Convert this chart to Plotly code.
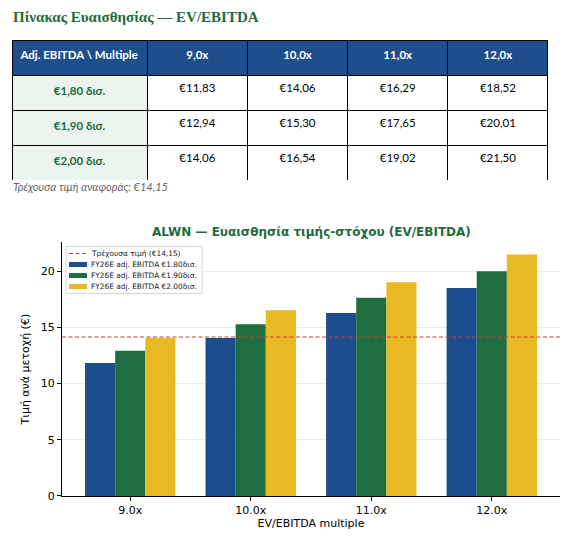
import plotly.graph_objects as go

# Sensitivity data
multiples_gr = ["9,0x", "10,0x", "11,0x", "12,0x"]
multiples_en = ["9.0x", "10.0x", "11.0x", "12.0x"]
ebitda_table = ["€1,80 δισ.", "€1,90 δισ.", "€2,00 δισ."]
ebitda_legend = ["FY26E adj. EBITDA €1.80δισ.", "FY26E adj. EBITDA €1.90δισ.", "FY26E adj. EBITDA €2.00δισ."]
price_180 = [11.83, 14.06, 16.29, 18.52]
price_190 = [12.94, 15.30, 17.65, 20.01]
price_200 = [14.06, 16.54, 19.02, 21.50]
current_price = 14.15

prices = [price_180, price_190, price_200]
bar_colors = ["#1c4e8f", "#1f6e42", "#e8b923"]
green_text = "#1e6b3e"
line_red = "#cc3b33"

W, H = 581, 549
H_POS = 541  # vertical positions come out slightly compressed in the render


def px_x(v):
    return v / W


def px_y(v):
    return 1 - v / H_POS


fig = go.Figure()

# Table
fmt = lambda v: "€" + f"{v:.2f}".replace(".", ",")
cols = [["<b>" + e + "</b>" for e in ebitda_table]]
for j in range(len(multiples_gr)):
    cols.append([fmt(p[j]) for p in prices])

header_first = "Adj. EBITDA \\ Multiple".replace(" ", "\u00a0")

fig.add_trace(go.Table(
    domain=dict(x=[px_x(12), px_x(548)], y=[px_y(180), px_y(40)]),
    columnwidth=[135, 100, 100, 100, 100],
    header=dict(
        values=["<b>" + header_first + "</b>"] + ["<b>" + m + "</b>" for m in multiples_gr],
        fill_color="#1f4e8c",
        font=dict(family="Lato", size=11.5, color="white"),
        line=dict(color="black", width=1),
        align="center",
        height=35.5,
    ),
    cells=dict(
        values=cols,
        fill_color=[["#eaf3ec"] * 3] + [["white"] * 3] * 4,
        font=dict(family="Lato", size=11.5, color=[[green_text] * 3] + [["black"] * 3] * 4),
        line=dict(color="black", width=1),
        align="center",
        height=35,
    ),
))

# Bars
for i in range(3):
    fig.add_trace(go.Bar(
        x=multiples_en, y=prices[i], name=ebitda_legend[i],
        marker=dict(color=bar_colors[i], line=dict(width=0)),
        showlegend=False,
    ))

fig.add_shape(type="line", xref="x domain", x0=0, x1=1, yref="y",
              y0=current_price, y1=current_price,
              line=dict(color=line_red, dash="4px,2.5px", width=1))

# Legend (matplotlib-style compact box, upper left)
lg_left, lg_top = 66, 246
row_h = 11
fig.add_shape(type="rect", xref="paper", yref="paper",
              x0=px_x(lg_left), x1=px_x(202), y0=px_y(lg_top), y1=px_y(293),
              line=dict(color="#d5d5d5", width=1), fillcolor="rgba(255,255,255,0.85)")
legend_labels = [f"Τρέχουσα τιμή (€{current_price:.2f})".replace(".", ",")] + ebitda_legend
for k, lab in enumerate(legend_labels):
    yc = lg_top + 7 + k * row_h
    if k == 0:
        fig.add_shape(type="line", xref="paper", yref="paper",
                      x0=px_x(69), x1=px_x(87), y0=px_y(yc), y1=px_y(yc),
                      line=dict(color=line_red, dash="4px,2.5px", width=1))
    else:
        fig.add_shape(type="rect", xref="paper", yref="paper",
                      x0=px_x(69), x1=px_x(87), y0=px_y(yc + 2.5), y1=px_y(yc - 2.5),
                      line=dict(width=0), fillcolor=bar_colors[k - 1])
    fig.add_annotation(text=lab, xref="paper", yref="paper",
                       x=px_x(89), y=px_y(yc), xanchor="left", yanchor="middle",
                       showarrow=False, font=dict(family="DejaVu Sans", size=7.4, color="#222222"))

fig.update_layout(
    width=W, height=H,
    margin=dict(l=0, r=0, t=0, b=0),
    paper_bgcolor="white", plot_bgcolor="white",
    barmode="group", bargap=0.25, bargroupgap=0,
    font=dict(family="DejaVu Sans", color="black"),
    showlegend=False,
    xaxis=dict(
        type="category",
        domain=[px_x(62), px_x(560)], anchor="y",
        range=[-0.566, 3.566],
        showline=True, linecolor="black", linewidth=1,
        ticks="outside", ticklen=4, tickcolor="black",
        tickfont=dict(size=11),
        title=dict(text="EV/EBITDA multiple", font=dict(size=11), standoff=3),
        showgrid=False,
    ),
    yaxis=dict(
        domain=[px_y(495), px_y(242)],
        range=[0, 22.575],
        dtick=5,
        showline=True, linecolor="black", linewidth=1,
        ticks="outside", ticklen=4, tickcolor="black",
        tickfont=dict(size=11),
        showgrid=True, gridcolor="#ebebeb", gridwidth=1,
        zeroline=False,
        title=dict(text="Τιμή ανά μετοχή (€)", font=dict(size=11), standoff=8),
    ),
)

# Titles and caption
fig.add_annotation(
    text="<b>Πίνακας Ευαισθησίας — EV/EBITDA</b>",
    xref="paper", yref="paper", x=px_x(11), y=px_y(17),
    xanchor="left", yanchor="middle", showarrow=False,
    font=dict(family="Liberation Serif", size=15, color=green_text),
)
fig.add_annotation(
    text="<i>Τρέχουσα τιμή αναφοράς: €14,15</i>",
    xref="paper", yref="paper", x=px_x(11), y=px_y(186),
    xanchor="left", yanchor="middle", showarrow=False,
    font=dict(family="Lato", size=11, color="#666666"),
)
fig.add_annotation(
    text="<b>ALWN — Ευαισθησία τιμής-στόχου (EV/EBITDA)</b>",
    xref="paper", yref="paper", x=px_x(311), y=px_y(232),
    xanchor="center", yanchor="middle", showarrow=False,
    font=dict(family="DejaVu Sans", size=12, color=green_text),
)

fig.write_html("out.html", config={"displayModeBar": False, "responsive": False},
               post_script="document.body.style.margin='0';")
